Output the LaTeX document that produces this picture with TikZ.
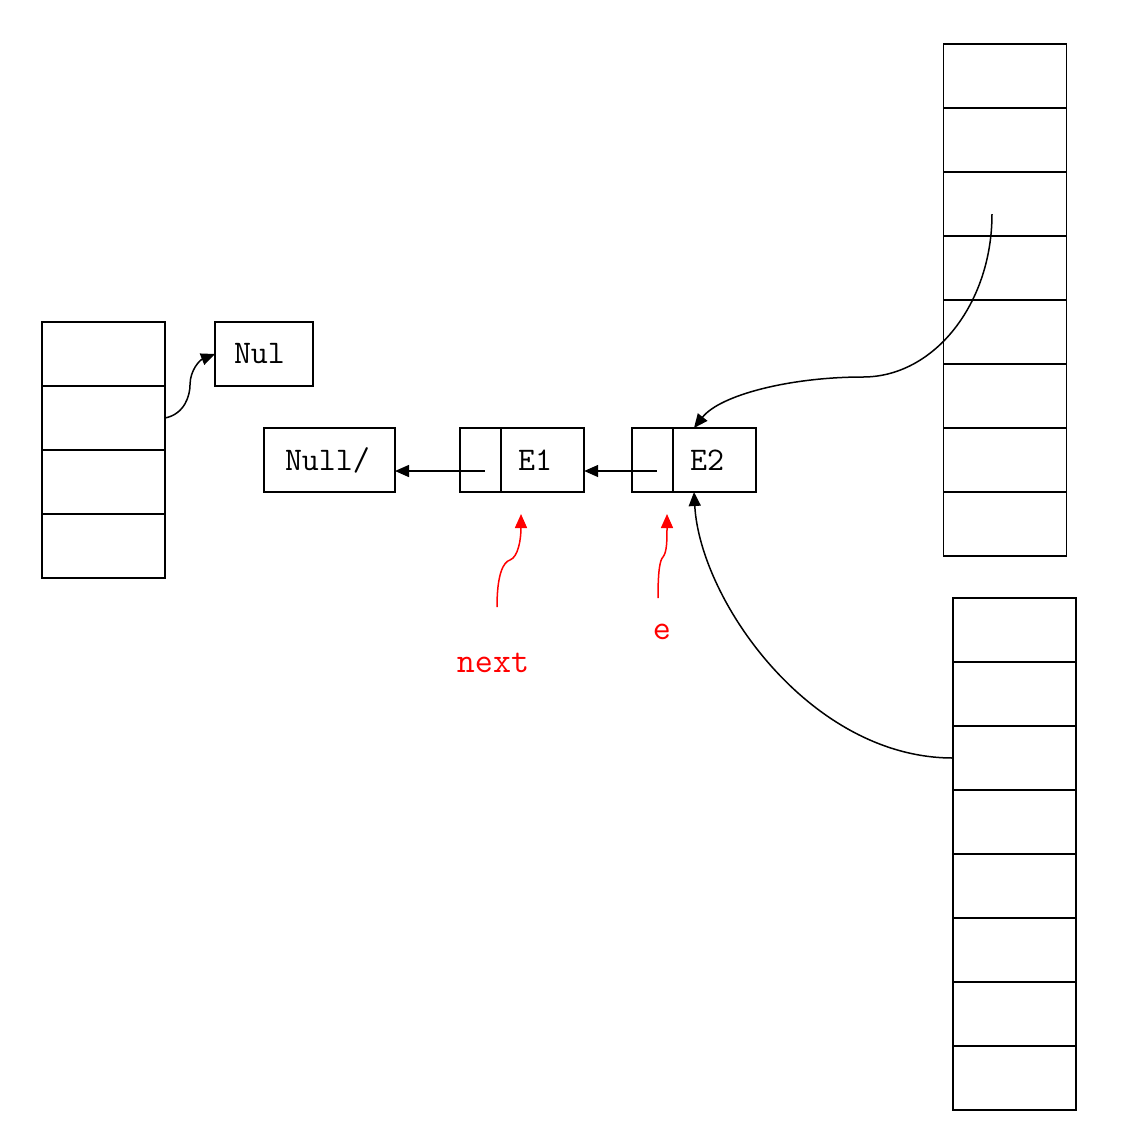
\documentclass[tikz,border=0pt]{standalone}
\usepackage{tikz}
\usetikzlibrary{arrows.meta,positioning,shapes.multipart}

\tikzset{
 cell/.style={draw, line width=0.9pt, minimum width=61.5pt, minimum height=32pt, inner sep=0pt, outer sep=0pt},
 box/.style={draw, line width=0.9pt, minimum height=32pt, inner ysep=0pt, outer sep=0pt, align=left,
  font=\ttfamily\fontsize{16.5}{20}\selectfont},
 listnode/.style={draw, line width=0.9pt, rectangle split, rectangle split horizontal, rectangle split parts=2,
  minimum height=32pt, inner xsep=8pt, inner ysep=0pt, outer sep=0pt, font=\ttfamily\fontsize{16.5}{20}\selectfont},
 ptr/.style={-{Triangle[length=7pt,width=6pt]}, line width=0.75pt},
 mark red/.style={red, font=\ttfamily\fontsize{17.5}{20}\selectfont}
}

\begin{document}
\begin{tikzpicture}[x=0.5pt,y=-0.5pt]
 \useasboundingbox (0,0) rectangle (1124,1142);
 % left table
 \node[cell] (L1) at (103.5,354) {};
 \foreach \i [remember=\i as \j (initially 1)] in {2,...,4}
  \node[cell, below=0pt of L\j] (L\i) {};
 % top right table
 \node[cell] (R1) at (1005,76) {};
 \foreach \i [remember=\i as \j (initially 1)] in {2,...,8}
  \node[cell, below=0pt of R\j] (R\i) {};
 % bottom right table
 \node[cell] (S1) at (1014.5,630) {};
 \foreach \i [remember=\i as \j (initially 1)] in {2,...,8}
  \node[cell, below=0pt of S\j] (S\i) {};
 % list
 \node[box, text width=30pt, inner xsep=9.5pt] (nul) at (264,354) {Nul};
 \node[box, text width=44.5pt, inner xsep=10.5pt] (null) at (329.5,460) {Null/};
 \node[listnode] (e1) at (522,460) {\hspace*{2pt}\nodepart{two}\makebox[25pt][l]{E1}};
 \node[listnode] (e2) at (694,460) {\hspace*{2pt}\nodepart{two}\makebox[25pt][l]{E2}};
 \coordinate (t1) at ([shift={(12.5pt,-5.5pt)}]e1.west);
 \coordinate (t2) at ([shift={(12.5pt,-5.5pt)}]e2.west);
 \draw[ptr] (t1) -- (t1 -| null.east);
 \draw[ptr] (t2) -- (t2 -| e1.east);
 \draw[ptr] (L2.east) .. controls (185,414) and (190,395) .. (190,385) .. controls (190,370) and (200,360) .. (nul.west);
 % pointers from tables
 \coordinate (r3p) at ([shift={(-6.5pt,-5pt)}]R3.center);
 \draw[ptr] (r3p) .. controls (992,304) and (934,377) .. (863,377)
  .. controls (790,377) and (720,395) .. (e2.north);
 \draw[ptr] (S3.west) .. controls (810,758) and (700,600) .. (e2.south);
 % labels
 \node[mark red] (next) at (493,663) {next};
 \node[mark red] (e) at (662,632) {e};
 \coordinate (nexttip) at ([shift={(-0.5pt,-11pt)}]e1.south);
 \coordinate (etip) at ([shift={(-13.5pt,-11pt)}]e2.south);
 \draw[ptr, red] (497,607) .. controls (497,575) and (503,562) .. (510,560)
  .. controls (518,557) and (521,540) .. (nexttip);
 \draw[ptr, red] (658,598) .. controls (658,570) and (660,560) .. (663,557)
  .. controls (667,552) and (667,540) .. (etip);
\end{tikzpicture}
\end{document}
